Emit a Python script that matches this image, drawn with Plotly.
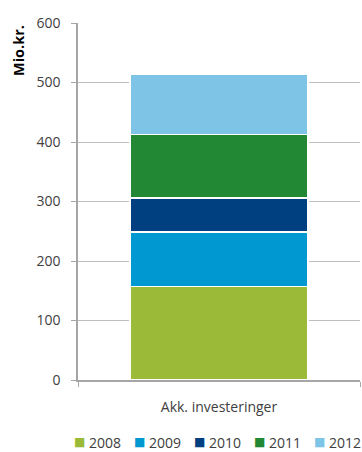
import plotly.graph_objects as go

# Accumulated investments by year (mio. kr.), stacked in one column
category = ["Akk. investeringer"]
years = ["2008", "2009", "2010", "2011", "2012"]
values = [157, 92, 57, 107, 101]
colors = ["#9BBB38", "#0098D0", "#003F80", "#228833", "#7DC4E6"]

y_ticks = [0, 100, 200, 300, 400, 500, 600]

fig = go.Figure()
for yr, v, c in zip(years, values, colors):
    fig.add_trace(go.Bar(
        x=category, y=[v], name=yr,
        marker=dict(color=c, line=dict(color="white", width=1.5)),
        width=0.63,
    ))

font_color = "#404040"
W, H = 362, 452
ML, MR, MT, MB = 78, 2, 23, 72
plot_w, plot_h = W - ML - MR, H - MT - MB


def px_x(x):
    return (x - ML) / plot_w


def px_y(y):
    return (H - MB - y) / plot_h


# Compact legend row under the axis: small colour key right before each year
legend_y = 442
legend_notes = []
for i, (yr, c) in enumerate(zip(years, colors)):
    x_text = 88 + 60 * i
    legend_notes.append(dict(
        text="■", xref="paper", yref="paper",
        x=px_x(x_text - 2), y=px_y(legend_y), xanchor="right", yanchor="middle",
        showarrow=False, borderpad=0,
        font=dict(family="DejaVu Sans", size=12, color=c),
    ))
    legend_notes.append(dict(
        text=yr, xref="paper", yref="paper",
        x=px_x(x_text), y=px_y(legend_y), xanchor="left", yanchor="middle",
        showarrow=False, borderpad=0,
        font=dict(size=14, color=font_color),
    ))

fig.update_layout(
    barmode="stack",
    width=W, height=H,
    margin=dict(l=ML, r=MR, t=MT, b=MB, autoexpand=False),
    paper_bgcolor="white", plot_bgcolor="white",
    font=dict(family="Open Sans", size=14, color=font_color),
    showlegend=False,
    xaxis=dict(
        showline=True, linecolor="#A6A6A6", linewidth=1.5,
        ticks="outside", tickson="boundaries", ticklen=5, tickcolor="#A6A6A6",
        showgrid=False, ticklabelstandoff=13,
    ),
    yaxis=dict(
        range=[0, 600], tickvals=y_ticks,
        showline=True, linecolor="#A6A6A6", linewidth=1.5,
        ticks="outside", ticklen=5, tickcolor="#A6A6A6",
        showgrid=True, gridcolor="#BFBFBF", gridwidth=1,
        zeroline=False, ticklabelstandoff=8,
    ),
    annotations=[dict(
        text="<b>Mio.kr.</b>", textangle=-90,
        xref="paper", yref="paper", x=px_x(18), y=px_y(51),
        xanchor="center", yanchor="middle", showarrow=False,
        font=dict(size=14.5, color="#000000"),
    )] + legend_notes,
)

fig.write_html("out.html")
